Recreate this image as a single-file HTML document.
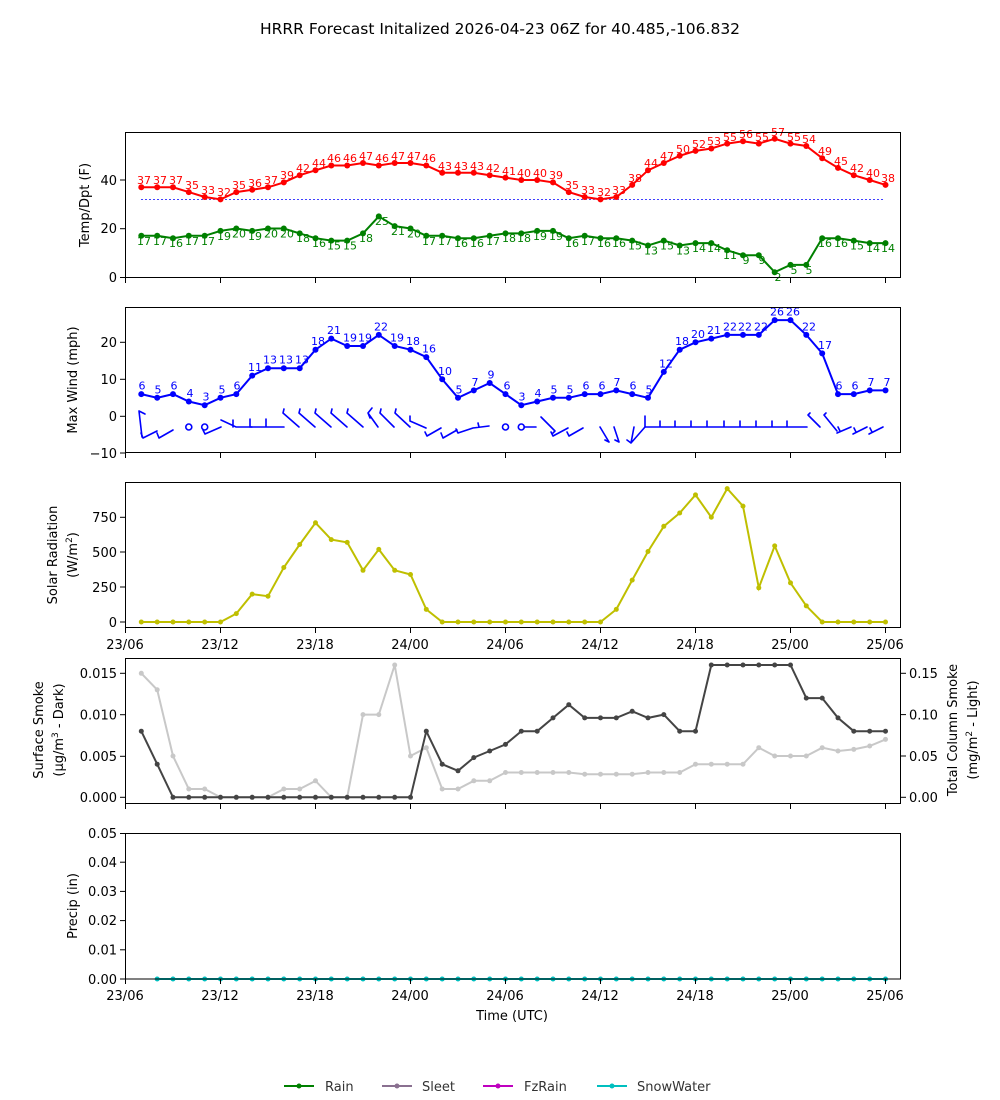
<!DOCTYPE html>
<html><head><meta charset="utf-8"><style>
html,body{margin:0;padding:0;background:#fff}
svg{display:block;font-family:"DejaVu Sans","Liberation Sans",sans-serif}
.t{font-size:13px;fill:#000}
.tr text{fill:#f00;font-size:11px;text-anchor:middle}
.tg text{fill:#008000;font-size:11px;text-anchor:middle}
.tb text{fill:#00f;font-size:11px;text-anchor:middle}
.ax{fill:none;stroke:#000;stroke-width:1}
.tk line{stroke:#000;stroke-width:1}
</style></head><body>
<svg width="1000" height="1100" viewBox="0 0 1000 1100" xmlns="http://www.w3.org/2000/svg">
<defs>
<marker id="mr" markerUnits="userSpaceOnUse" markerWidth="8" markerHeight="8" refX="4" refY="4"><circle cx="4" cy="4" r="3" fill="#f00"/></marker>
<marker id="mg" markerUnits="userSpaceOnUse" markerWidth="8" markerHeight="8" refX="4" refY="4"><circle cx="4" cy="4" r="3" fill="#008000"/></marker>
<marker id="mb" markerUnits="userSpaceOnUse" markerWidth="8" markerHeight="8" refX="4" refY="4"><circle cx="4" cy="4" r="3" fill="#00f"/></marker>
<marker id="my" markerUnits="userSpaceOnUse" markerWidth="8" markerHeight="8" refX="4" refY="4"><circle cx="4" cy="4" r="2.5" fill="#bfbf00"/></marker>
<marker id="md" markerUnits="userSpaceOnUse" markerWidth="8" markerHeight="8" refX="4" refY="4"><circle cx="4" cy="4" r="2.5" fill="#444"/></marker>
<marker id="ml" markerUnits="userSpaceOnUse" markerWidth="8" markerHeight="8" refX="4" refY="4"><circle cx="4" cy="4" r="2.5" fill="#c8c8c8"/></marker>
<marker id="mc" markerUnits="userSpaceOnUse" markerWidth="8" markerHeight="8" refX="4" refY="4"><circle cx="4" cy="4" r="2.5" fill="#00bfbf"/></marker>
</defs>

<text x="500" y="34" text-anchor="middle" style="font-size:15.5px">HRRR Forecast Initalized 2026-04-23 06Z for 40.485,-106.832</text>

<!-- Panel 1 -->
<line x1="141" y1="199.4" x2="885" y2="199.4" stroke="#00f" stroke-width="0.8" stroke-dasharray="2,2"/>
<polyline fill="none" stroke="#f00" stroke-width="2" marker-start="url(#mr)" marker-mid="url(#mr)" marker-end="url(#mr)" points="141.3,187.3 157.2,187.3 173,187.3 188.8,192.1 204.7,197 220.5,199.4 236.3,192.1 252.2,189.7 268,187.3 283.8,182.4 299.7,175.2 315.5,170.3 331.3,165.5 347.2,165.5 363,163 378.8,165.5 394.7,163 410.5,163 426.3,165.5 442.2,172.7 458,172.7 473.8,172.7 489.7,175.2 505.5,177.6 521.3,180 537.2,180 553,182.4 568.8,192.1 584.7,197 600.5,199.4 616.3,197 632.2,184.9 648,170.3 663.8,163 679.7,155.8 695.5,150.9 711.3,148.5 727.2,143.6 743,141.2 758.8,143.6 774.7,138.8 790.5,143.6 806.3,146 822.2,158.2 838,167.9 853.8,175.2 869.7,180 885.5,184.9"/>
<polyline fill="none" stroke="#008000" stroke-width="2" marker-start="url(#mg)" marker-mid="url(#mg)" marker-end="url(#mg)" points="141.3,235.8 157.2,235.8 173,238.2 188.8,235.8 204.7,235.8 220.5,230.9 236.3,228.5 252.2,230.9 268,228.5 283.8,228.5 299.7,233.4 315.5,238.2 331.3,240.6 347.2,240.6 363,233.4 378.8,216.4 394.7,226.1 410.5,228.5 426.3,235.8 442.2,235.8 458,238.2 473.8,238.2 489.7,235.8 505.5,233.4 521.3,233.4 537.2,230.9 553,230.9 568.8,238.2 584.7,235.8 600.5,238.2 616.3,238.2 632.2,240.6 648,245.5 663.8,240.6 679.7,245.5 695.5,243.1 711.3,243.1 727.2,250.3 743,255.2 758.8,255.2 774.7,272.2 790.5,264.9 806.3,264.9 822.2,238.2 838,238.2 853.8,240.6 869.7,243.1 885.5,243.1"/>
<g class="tr">
<text x="144" y="184">37</text><text x="160" y="184">37</text><text x="176" y="184">37</text><text x="192" y="189">35</text><text x="208" y="194">33</text><text x="224" y="196">32</text><text x="239" y="189">35</text><text x="255" y="187">36</text><text x="271" y="184">37</text><text x="287" y="179">39</text><text x="303" y="172">42</text><text x="319" y="167">44</text><text x="334" y="162">46</text><text x="350" y="162">46</text><text x="366" y="160">47</text><text x="382" y="162">46</text><text x="398" y="160">47</text><text x="414" y="160">47</text><text x="429" y="162">46</text><text x="445" y="170">43</text><text x="461" y="170">43</text><text x="477" y="170">43</text><text x="493" y="172">42</text><text x="509" y="175">41</text><text x="524" y="177">40</text><text x="540" y="177">40</text><text x="556" y="179">39</text><text x="572" y="189">35</text><text x="588" y="194">33</text><text x="604" y="196">32</text><text x="619" y="194">33</text><text x="635" y="182">38</text><text x="651" y="167">44</text><text x="667" y="160">47</text><text x="683" y="153">50</text><text x="699" y="148">52</text><text x="714" y="145">53</text><text x="730" y="141">55</text><text x="746" y="138">56</text><text x="762" y="141">55</text><text x="778" y="136">57</text><text x="794" y="141">55</text><text x="809" y="143">54</text><text x="825" y="155">49</text><text x="841" y="165">45</text><text x="857" y="172">42</text><text x="873" y="177">40</text><text x="888" y="182">38</text>
</g>
<g class="tg">
<text x="144" y="245">17</text><text x="160" y="245">17</text><text x="176" y="247">16</text><text x="192" y="245">17</text><text x="208" y="245">17</text><text x="224" y="240">19</text><text x="239" y="237.5">20</text><text x="255" y="240">19</text><text x="271" y="237.5">20</text><text x="287" y="237.5">20</text><text x="303" y="242">18</text><text x="319" y="247">16</text><text x="334" y="249.6">15</text><text x="350" y="249.6">15</text><text x="366" y="242">18</text><text x="382" y="225">25</text><text x="398" y="235">21</text><text x="414" y="237.5">20</text><text x="429" y="245">17</text><text x="445" y="245">17</text><text x="461" y="247">16</text><text x="477" y="247">16</text><text x="493" y="245">17</text><text x="509" y="242">18</text><text x="524" y="242">18</text><text x="540" y="240">19</text><text x="556" y="240">19</text><text x="572" y="247">16</text><text x="588" y="245">17</text><text x="604" y="247">16</text><text x="619" y="247">16</text><text x="635" y="249.6">15</text><text x="651" y="254.5">13</text><text x="667" y="249.6">15</text><text x="683" y="254.5">13</text><text x="699" y="252">14</text><text x="714" y="252">14</text><text x="730" y="259">11</text><text x="746" y="264">9</text><text x="762" y="264">9</text><text x="778" y="281">2</text><text x="794" y="274">5</text><text x="809" y="274">5</text><text x="825" y="247">16</text><text x="841" y="247">16</text><text x="857" y="249.6">15</text><text x="873" y="252">14</text><text x="888" y="252">14</text>
</g>
<rect class="ax" x="125.5" y="132.5" width="775" height="145"/>
<g class="tk"><line x1="120" y1="277.5" x2="125" y2="277.5"/><line x1="120" y1="228.7" x2="125" y2="228.7"/><line x1="120" y1="180" x2="125" y2="180"/>
<line x1="125.5" y1="278" x2="125.5" y2="283"/><line x1="220.5" y1="278" x2="220.5" y2="283"/><line x1="315.5" y1="278" x2="315.5" y2="283"/><line x1="410.5" y1="278" x2="410.5" y2="283"/><line x1="505.5" y1="278" x2="505.5" y2="283"/><line x1="600.5" y1="278" x2="600.5" y2="283"/><line x1="695.5" y1="278" x2="695.5" y2="283"/><line x1="790.5" y1="278" x2="790.5" y2="283"/><line x1="885.5" y1="278" x2="885.5" y2="283"/></g>
<g class="t" text-anchor="end"><text class="t" x="117" y="282">0</text><text class="t" x="117" y="233">20</text><text class="t" x="117" y="185">40</text></g>
<text class="t" transform="translate(89,205) rotate(-90)" text-anchor="middle">Temp/Dpt (F)</text>

<!-- Panel 2 -->
<polyline fill="none" stroke="#00f" stroke-width="2" marker-start="url(#mb)" marker-mid="url(#mb)" marker-end="url(#mb)" points="141.3,394.1 157.2,397.8 173,394.1 188.8,401.5 204.7,405.2 220.5,397.8 236.3,394.1 252.2,375.6 268,368.2 283.8,368.2 299.7,368.2 315.5,349.7 331.3,338.6 347.2,346 363,346 378.8,334.9 394.7,346 410.5,349.7 426.3,357.1 442.2,379.3 458,397.8 473.8,390.4 489.7,383 505.5,394.1 521.3,405.2 537.2,401.5 553,397.8 568.8,397.8 584.7,394.1 600.5,394.1 616.3,390.4 632.2,394.1 648,397.8 663.8,371.9 679.7,349.7 695.5,342.3 711.3,338.6 727.2,334.9 743,334.9 758.8,334.9 774.7,320.1 790.5,320.1 806.3,334.9 822.2,353.4 838,394.1 853.8,394.1 869.7,390.4 885.5,390.4"/>
<g class="tb">
<text x="142" y="389.6">6</text><text x="158" y="393.3">5</text><text x="174" y="389.6">6</text><text x="190" y="397">4</text><text x="206" y="400.7">3</text><text x="222" y="393.3">5</text><text x="237" y="389.6">6</text><text x="255" y="371">11</text><text x="270" y="363.7">13</text><text x="286" y="363.7">13</text><text x="302" y="363.7">13</text><text x="318" y="345.2">18</text><text x="334" y="334">21</text><text x="350" y="341.5">19</text><text x="365" y="341.5">19</text><text x="381" y="330.4">22</text><text x="397" y="341.5">19</text><text x="413" y="345.2">18</text><text x="429" y="352.6">16</text><text x="445" y="374.8">10</text><text x="459" y="393.3">5</text><text x="475" y="385.9">7</text><text x="491" y="378.5">9</text><text x="507" y="389.6">6</text><text x="522" y="400.7">3</text><text x="538" y="397">4</text><text x="554" y="393.3">5</text><text x="570" y="393.3">5</text><text x="586" y="389.6">6</text><text x="602" y="389.6">6</text><text x="617" y="385.9">7</text><text x="633" y="389.6">6</text><text x="649" y="393.3">5</text><text x="666" y="367.4">12</text><text x="682" y="345.2">18</text><text x="698" y="337.8">20</text><text x="714" y="334">21</text><text x="730" y="330.4">22</text><text x="745" y="330.4">22</text><text x="761" y="330.4">22</text><text x="777" y="315.6">26</text><text x="793" y="315.6">26</text><text x="809" y="330.4">22</text><text x="825" y="348.9">17</text><text x="839" y="389.6">6</text><text x="855" y="389.6">6</text><text x="871" y="385.9">7</text><text x="887" y="385.9">7</text>
</g>
<g fill="none" stroke="#00f" stroke-width="1.6" stroke-linecap="round">
<path d="M139,411 L142,437 M139,411 L145,414"/>
<path d="M143,438 L157,431 M143,438 L141,433 M159,438 L173,430 M159,438 L157,433"/>
<circle cx="188.8" cy="427" r="3"/><circle cx="204.7" cy="427" r="3"/>
<path d="M205,434 L221,427 M205,434 L203,430"/>
<path d="M221,420 L236,427 L252,427 M233,427 L233,420"/>
<path d="M250,427 L268,427 M250,427 L250,419 M264,427 L284,427 M266,427 L266,419"/>
<path d="M283,413 L299,427 M283,413 L284,409 M299,413 L315,427 M299,413 L300,409 M315,413 L331,427 M315,413 L316,409 M331,413 L347,427 M331,413 L332,409 M347,413 L363,427 M347,413 L348,409"/>
<path d="M368,413 L378,427 M368,413 L372,408 M368,413 L370,418"/>
<path d="M380,413 L394,427 M380,413 L381,409 M395,413 L410,427 M395,413 L396,409 M410,421 L426,428 M410,421 L410,416"/>
<path d="M427,436 L441,428 M427,436 L425,432 M443,438 L457,430 M443,438 L441,433 M458,433 L473,428 M458,433 L456,429 M473,428 L489,426 M479,427 L478,423"/>
<circle cx="505.5" cy="427" r="3"/><circle cx="521.3" cy="427" r="3"/><path d="M524,427 L536,427"/>
<path d="M541,417 L555,431 M555,431 L553,433"/>
<path d="M553,436 L568,428 M553,436 L551,432 M569,436 L583,428 M569,436 L567,432"/>
<path d="M600,427 L609,442 M609,442 L605,440 M614,427 L619,442 M619,442 L615,440 M634,427 L631,443 M631,443 L627,440 M631,443 L645,427"/>
<path d="M645,416 L645,427 L807,427 M660,421 L660,427 M675,421 L675,427 M691,421 L691,427 M707,421 L707,427 M724,421 L724,427 M740,421 L740,427 M756,421 L756,427 M772,421 L772,427 M787,421 L787,427"/>
<path d="M808,415 L820,427 M808,415 L810,413 M824,415 L837,431 M824,415 L826,413"/>
<path d="M837,433 L851,427 M840,431 L838,427 M853,434 L867,427 M856,432 L854,428 M869,434 L883,427 M872,432 L870,428"/>
</g>
<rect class="ax" x="125.5" y="307.5" width="775" height="145"/>
<g class="tk"><line x1="120" y1="453" x2="125" y2="453"/><line x1="120" y1="416.3" x2="125" y2="416.3"/><line x1="120" y1="379.3" x2="125" y2="379.3"/><line x1="120" y1="342.3" x2="125" y2="342.3"/>
<line x1="125.5" y1="453" x2="125.5" y2="458"/><line x1="220.5" y1="453" x2="220.5" y2="458"/><line x1="315.5" y1="453" x2="315.5" y2="458"/><line x1="410.5" y1="453" x2="410.5" y2="458"/><line x1="505.5" y1="453" x2="505.5" y2="458"/><line x1="600.5" y1="453" x2="600.5" y2="458"/><line x1="695.5" y1="453" x2="695.5" y2="458"/><line x1="790.5" y1="453" x2="790.5" y2="458"/><line x1="885.5" y1="453" x2="885.5" y2="458"/></g>
<g text-anchor="end"><text class="t" x="117" y="458">−10</text><text class="t" x="117" y="421">0</text><text class="t" x="117" y="384">10</text><text class="t" x="117" y="347">20</text></g>
<text class="t" transform="translate(77,380) rotate(-90)" text-anchor="middle">Max Wind (mph)</text>

<!-- Panel 3 -->
<polyline fill="none" stroke="#bfbf00" stroke-width="2" marker-start="url(#my)" marker-mid="url(#my)" marker-end="url(#my)" points="141.3,622 157.2,622 173,622 188.8,622 204.7,622 220.5,622 236.3,613.6 252.2,594.1 268,596.2 283.8,567.5 299.7,544.5 315.5,522.8 331.3,539.6 347.2,542.4 363,570.3 378.8,549.4 394.7,570.3 410.5,574.5 426.3,609.4 442.2,622 458,622 473.8,622 489.7,622 505.5,622 521.3,622 537.2,622 553,622 568.8,622 584.7,622 600.5,622 616.3,609.4 632.2,580.1 648,551.5 663.8,526.3 679.7,513 695.5,494.9 711.3,517.2 727.2,488.6 743,506.1 758.8,587.8 774.7,545.9 790.5,582.9 806.3,605.9 822.2,622 838,622 853.8,622 869.7,622 885.5,622"/>
<rect class="ax" x="125.5" y="482.5" width="775" height="145"/>
<g class="tk"><line x1="120" y1="622" x2="125" y2="622"/><line x1="120" y1="587" x2="125" y2="587"/><line x1="120" y1="552" x2="125" y2="552"/><line x1="120" y1="517.3" x2="125" y2="517.3"/>
<line x1="125.5" y1="628" x2="125.5" y2="633"/><line x1="220.5" y1="628" x2="220.5" y2="633"/><line x1="315.5" y1="628" x2="315.5" y2="633"/><line x1="410.5" y1="628" x2="410.5" y2="633"/><line x1="505.5" y1="628" x2="505.5" y2="633"/><line x1="600.5" y1="628" x2="600.5" y2="633"/><line x1="695.5" y1="628" x2="695.5" y2="633"/><line x1="790.5" y1="628" x2="790.5" y2="633"/><line x1="885.5" y1="628" x2="885.5" y2="633"/></g>
<g text-anchor="end"><text class="t" x="117" y="627">0</text><text class="t" x="117" y="592">250</text><text class="t" x="117" y="557">500</text><text class="t" x="117" y="522">750</text></g>
<g text-anchor="middle"><text class="t" x="125" y="649">23/06</text><text class="t" x="220" y="649">23/12</text><text class="t" x="315" y="649">23/18</text><text class="t" x="410" y="649">24/00</text><text class="t" x="505" y="649">24/06</text><text class="t" x="600" y="649">24/12</text><text class="t" x="695" y="649">24/18</text><text class="t" x="790" y="649">25/00</text><text class="t" x="885" y="649">25/06</text></g>
<text class="t" transform="translate(57,555) rotate(-90)" text-anchor="middle">Solar Radiation</text>
<text class="t" transform="translate(77,555) rotate(-90)" text-anchor="middle">(W/m<tspan dy="-5" font-size="9">2</tspan><tspan dy="5">)</tspan></text>

<!-- Panel 4 -->
<polyline fill="none" stroke="#c8c8c8" stroke-width="2" marker-start="url(#ml)" marker-mid="url(#ml)" marker-end="url(#ml)" points="141.3,673.3 157.2,689.8 173,756 188.8,789 204.7,789 220.5,797.3 236.3,797.3 252.2,797.3 268,797.3 283.8,789 299.7,789 315.5,780.8 331.3,797.3 347.2,797.3 363,714.6 378.8,714.6 394.7,665 410.5,756 426.3,747.7 442.2,789 458,789 473.8,780.8 489.7,780.8 505.5,772.5 521.3,772.5 537.2,772.5 553,772.5 568.8,772.5 584.7,774.2 600.5,774.2 616.3,774.2 632.2,774.2 648,772.5 663.8,772.5 679.7,772.5 695.5,764.2 711.3,764.2 727.2,764.2 743,764.2 758.8,747.7 774.7,756 790.5,756 806.3,756 822.2,747.7 838,751 853.8,749.4 869.7,746 885.5,739.4"/>
<polyline fill="none" stroke="#444" stroke-width="2" marker-start="url(#md)" marker-mid="url(#md)" marker-end="url(#md)" points="141.3,731.2 157.2,764.2 173,797.3 188.8,797.3 204.7,797.3 220.5,797.3 236.3,797.3 252.2,797.3 268,797.3 283.8,797.3 299.7,797.3 315.5,797.3 331.3,797.3 347.2,797.3 363,797.3 378.8,797.3 394.7,797.3 410.5,797.3 426.3,731.2 442.2,764.2 458,770.8 473.8,757.6 489.7,751 505.5,744.4 521.3,731.2 537.2,731.2 553,717.9 568.8,704.7 584.7,717.9 600.5,717.9 616.3,717.9 632.2,711.3 648,717.9 663.8,714.6 679.7,731.2 695.5,731.2 711.3,665 727.2,665 743,665 758.8,665 774.7,665 790.5,665 806.3,698.1 822.2,698.1 838,717.9 853.8,731.2 869.7,731.2 885.5,731.2"/>
<rect class="ax" x="125.5" y="658.5" width="775" height="145"/>
<g class="tk"><line x1="120" y1="797.3" x2="125" y2="797.3"/><line x1="120" y1="756.3" x2="125" y2="756.3"/><line x1="120" y1="714.7" x2="125" y2="714.7"/><line x1="120" y1="673.3" x2="125" y2="673.3"/>
<line x1="901" y1="797.3" x2="906" y2="797.3"/><line x1="901" y1="756" x2="906" y2="756"/><line x1="901" y1="714.6" x2="906" y2="714.6"/><line x1="901" y1="673.3" x2="906" y2="673.3"/>
<line x1="125.5" y1="804" x2="125.5" y2="809"/><line x1="220.5" y1="804" x2="220.5" y2="809"/><line x1="315.5" y1="804" x2="315.5" y2="809"/><line x1="410.5" y1="804" x2="410.5" y2="809"/><line x1="505.5" y1="804" x2="505.5" y2="809"/><line x1="600.5" y1="804" x2="600.5" y2="809"/><line x1="695.5" y1="804" x2="695.5" y2="809"/><line x1="790.5" y1="804" x2="790.5" y2="809"/><line x1="885.5" y1="804" x2="885.5" y2="809"/></g>
<g text-anchor="end"><text class="t" x="117" y="802">0.000</text><text class="t" x="117" y="761">0.005</text><text class="t" x="117" y="719.5">0.010</text><text class="t" x="117" y="678">0.015</text></g>
<g text-anchor="start"><text class="t" x="909" y="802">0.00</text><text class="t" x="909" y="761">0.05</text><text class="t" x="909" y="719.5">0.10</text><text class="t" x="909" y="678">0.15</text></g>
<text class="t" transform="translate(43,730) rotate(-90)" text-anchor="middle">Surface Smoke</text>
<text class="t" transform="translate(63,730) rotate(-90)" text-anchor="middle">(μg/m<tspan dy="-5" font-size="9">3</tspan><tspan dy="5"> - Dark)</tspan></text>
<text class="t" transform="translate(957,730) rotate(-90)" text-anchor="middle">Total Column Smoke</text>
<text class="t" transform="translate(977,730) rotate(-90)" text-anchor="middle">(mg/m<tspan dy="-5" font-size="9">2</tspan><tspan dy="5"> - Light)</tspan></text>

<!-- Panel 5 -->
<polyline fill="none" stroke="#00bfbf" stroke-width="2" marker-start="url(#mc)" marker-mid="url(#mc)" marker-end="url(#mc)" points="157.2,979 173,979 188.8,979 204.7,979 220.5,979 236.3,979 252.2,979 268,979 283.8,979 299.7,979 315.5,979 331.3,979 347.2,979 363,979 378.8,979 394.7,979 410.5,979 426.3,979 442.2,979 458,979 473.8,979 489.7,979 505.5,979 521.3,979 537.2,979 553,979 568.8,979 584.7,979 600.5,979 616.3,979 632.2,979 648,979 663.8,979 679.7,979 695.5,979 711.3,979 727.2,979 743,979 758.8,979 774.7,979 790.5,979 806.3,979 822.2,979 838,979 853.8,979 869.7,979 885.5,979"/>
<rect class="ax" x="125.5" y="833.5" width="775" height="145.5"/>
<g class="tk"><line x1="120" y1="979" x2="125" y2="979"/><line x1="120" y1="949.8" x2="125" y2="949.8"/><line x1="120" y1="920.6" x2="125" y2="920.6"/><line x1="120" y1="891.4" x2="125" y2="891.4"/><line x1="120" y1="862.2" x2="125" y2="862.2"/><line x1="120" y1="833.5" x2="125" y2="833.5"/>
<line x1="125.5" y1="979" x2="125.5" y2="984"/><line x1="220.5" y1="979" x2="220.5" y2="984"/><line x1="315.5" y1="979" x2="315.5" y2="984"/><line x1="410.5" y1="979" x2="410.5" y2="984"/><line x1="505.5" y1="979" x2="505.5" y2="984"/><line x1="600.5" y1="979" x2="600.5" y2="984"/><line x1="695.5" y1="979" x2="695.5" y2="984"/><line x1="790.5" y1="979" x2="790.5" y2="984"/><line x1="885.5" y1="979" x2="885.5" y2="984"/></g>
<g text-anchor="end"><text class="t" x="117" y="984">0.00</text><text class="t" x="117" y="954.5">0.01</text><text class="t" x="117" y="925">0.02</text><text class="t" x="117" y="896">0.03</text><text class="t" x="117" y="867">0.04</text><text class="t" x="117" y="838">0.05</text></g>
<g text-anchor="middle"><text class="t" x="125" y="1000">23/06</text><text class="t" x="220" y="1000">23/12</text><text class="t" x="315" y="1000">23/18</text><text class="t" x="410" y="1000">24/00</text><text class="t" x="505" y="1000">24/06</text><text class="t" x="600" y="1000">24/12</text><text class="t" x="695" y="1000">24/18</text><text class="t" x="790" y="1000">25/00</text><text class="t" x="885" y="1000">25/06</text></g>
<text class="t" x="512" y="1020" text-anchor="middle">Time (UTC)</text>
<text class="t" transform="translate(77,906) rotate(-90)" text-anchor="middle">Precip (in)</text>

<!-- Legend -->
<g stroke-width="2">
<line x1="284" y1="1086" x2="314" y2="1086" stroke="#008000"/><circle cx="299" cy="1086" r="2.5" fill="#008000"/>
<line x1="382" y1="1086" x2="412" y2="1086" stroke="#8a7090"/><circle cx="397" cy="1086" r="2.5" fill="#8a7090"/>
<line x1="483" y1="1086" x2="513" y2="1086" stroke="#bf00bf"/><circle cx="498" cy="1086" r="2.5" fill="#bf00bf"/>
<line x1="597" y1="1086" x2="627" y2="1086" stroke="#00bfbf"/><circle cx="612" cy="1086" r="2.5" fill="#00bfbf"/>
</g>
<g fill="#333"><text class="t" x="325" y="1091" style="fill:#333">Rain</text><text class="t" x="422" y="1091" style="fill:#333">Sleet</text><text class="t" x="524" y="1091" style="fill:#333">FzRain</text><text class="t" x="637" y="1091" style="fill:#333">SnowWater</text></g>
</svg>
</body></html>
